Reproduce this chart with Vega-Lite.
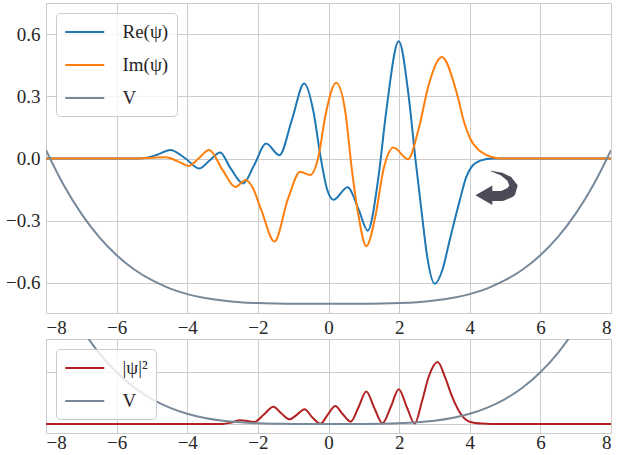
{
  "$schema": "https://vega.github.io/schema/vega-lite/v6.json",
  "background": "white",
  "padding": {"left": 5, "top": 2, "right": 5, "bottom": 0},
  "spacing": 0,
  "datasets": {
    "top": [
      {"s":"Re(ψ)","x":-8,"y":0},{"s":"Re(ψ)","x":-5.6,"y":0},{"s":"Re(ψ)","x":-5.2,"y":0.003},{"s":"Re(ψ)","x":-4.85,"y":0.018},{"s":"Re(ψ)","x":-4.48,"y":0.041},{"s":"Re(ψ)","x":-4.05,"y":0},{"s":"Re(ψ)","x":-3.66,"y":-0.048},{"s":"Re(ψ)","x":-3.36,"y":-0.008},{"s":"Re(ψ)","x":-3.07,"y":0.029},{"s":"Re(ψ)","x":-2.78,"y":-0.045},{"s":"Re(ψ)","x":-2.42,"y":-0.12},{"s":"Re(ψ)","x":-2.1,"y":-0.03},{"s":"Re(ψ)","x":-1.77,"y":0.072},{"s":"Re(ψ)","x":-1.39,"y":0.016},{"s":"Re(ψ)","x":-1.03,"y":0.19},{"s":"Re(ψ)","x":-0.69,"y":0.362},{"s":"Re(ψ)","x":-0.42,"y":0.221},{"s":"Re(ψ)","x":-0.23,"y":0.013},{"s":"Re(ψ)","x":-0.04,"y":-0.148},{"s":"Re(ψ)","x":0.14,"y":-0.199},{"s":"Re(ψ)","x":0.54,"y":-0.139},{"s":"Re(ψ)","x":0.85,"y":-0.244},{"s":"Re(ψ)","x":1.11,"y":-0.348},{"s":"Re(ψ)","x":1.42,"y":-0.083},{"s":"Re(ψ)","x":1.63,"y":0.221},{"s":"Re(ψ)","x":1.99,"y":0.565},{"s":"Re(ψ)","x":2.27,"y":0.301},{"s":"Re(ψ)","x":2.46,"y":0},{"s":"Re(ψ)","x":2.65,"y":-0.276},{"s":"Re(ψ)","x":2.79,"y":-0.468},{"s":"Re(ψ)","x":3.01,"y":-0.604},{"s":"Re(ψ)","x":3.22,"y":-0.54},{"s":"Re(ψ)","x":3.44,"y":-0.388},{"s":"Re(ψ)","x":3.72,"y":-0.2},{"s":"Re(ψ)","x":3.9,"y":-0.09},{"s":"Re(ψ)","x":4.05,"y":-0.04},{"s":"Re(ψ)","x":4.3,"y":-0.01},{"s":"Re(ψ)","x":4.65,"y":0},{"s":"Re(ψ)","x":8,"y":0},
      {"s":"Im(ψ)","x":-8,"y":0},{"s":"Im(ψ)","x":-5.4,"y":0},{"s":"Im(ψ)","x":-5.0,"y":0.004},{"s":"Im(ψ)","x":-4.6,"y":0.006},{"s":"Im(ψ)","x":-4.25,"y":-0.015},{"s":"Im(ψ)","x":-3.96,"y":-0.036},{"s":"Im(ψ)","x":-3.68,"y":0},{"s":"Im(ψ)","x":-3.38,"y":0.041},{"s":"Im(ψ)","x":-3.0,"y":-0.055},{"s":"Im(ψ)","x":-2.64,"y":-0.137},{"s":"Im(ψ)","x":-2.34,"y":-0.104},{"s":"Im(ψ)","x":-2.15,"y":-0.14},{"s":"Im(ψ)","x":-1.9,"y":-0.25},{"s":"Im(ψ)","x":-1.53,"y":-0.4},{"s":"Im(ψ)","x":-1.15,"y":-0.196},{"s":"Im(ψ)","x":-0.8,"y":-0.064},{"s":"Im(ψ)","x":-0.52,"y":-0.08},{"s":"Im(ψ)","x":-0.28,"y":0.013},{"s":"Im(ψ)","x":-0.09,"y":0.205},{"s":"Im(ψ)","x":0.22,"y":0.365},{"s":"Im(ψ)","x":0.48,"y":0.221},{"s":"Im(ψ)","x":0.66,"y":-0.051},{"s":"Im(ψ)","x":0.85,"y":-0.276},{"s":"Im(ψ)","x":1.07,"y":-0.423},{"s":"Im(ψ)","x":1.33,"y":-0.276},{"s":"Im(ψ)","x":1.56,"y":-0.051},{"s":"Im(ψ)","x":1.84,"y":0.053},{"s":"Im(ψ)","x":2.25,"y":-0.003},{"s":"Im(ψ)","x":2.55,"y":0.141},{"s":"Im(ψ)","x":2.84,"y":0.357},{"s":"Im(ψ)","x":3.21,"y":0.489},{"s":"Im(ψ)","x":3.63,"y":0.317},{"s":"Im(ψ)","x":3.85,"y":0.17},{"s":"Im(ψ)","x":4.02,"y":0.093},{"s":"Im(ψ)","x":4.28,"y":0.037},{"s":"Im(ψ)","x":4.57,"y":0.01},{"s":"Im(ψ)","x":4.9,"y":0},{"s":"Im(ψ)","x":8,"y":0},
      {"s":"V","x":-8,"y":0.04},{"s":"V","x":-7.5,"y":-0.128},{"s":"V","x":-7,"y":-0.266},{"s":"V","x":-6.5,"y":-0.378},{"s":"V","x":-6,"y":-0.466},{"s":"V","x":-5.5,"y":-0.535},{"s":"V","x":-5,"y":-0.587},{"s":"V","x":-4.5,"y":-0.626},{"s":"V","x":-4,"y":-0.654},{"s":"V","x":-3.5,"y":-0.673},{"s":"V","x":-3,"y":-0.685},{"s":"V","x":-2.5,"y":-0.693},{"s":"V","x":-2,"y":-0.697},{"s":"V","x":-1.5,"y":-0.699},{"s":"V","x":-1,"y":-0.7},{"s":"V","x":-0.5,"y":-0.7},{"s":"V","x":0,"y":-0.7},{"s":"V","x":0.5,"y":-0.7},{"s":"V","x":1,"y":-0.7},{"s":"V","x":1.5,"y":-0.699},{"s":"V","x":2,"y":-0.697},{"s":"V","x":2.5,"y":-0.693},{"s":"V","x":3,"y":-0.685},{"s":"V","x":3.5,"y":-0.673},{"s":"V","x":4,"y":-0.654},{"s":"V","x":4.5,"y":-0.626},{"s":"V","x":5,"y":-0.587},{"s":"V","x":5.5,"y":-0.535},{"s":"V","x":6,"y":-0.466},{"s":"V","x":6.5,"y":-0.378},{"s":"V","x":7,"y":-0.266},{"s":"V","x":7.5,"y":-0.128},{"s":"V","x":8,"y":0.04}
    ],
    "arrow": [
      {"i":0,"x":4.6,"y":-0.06},{"i":1,"x":4.9,"y":-0.075},{"i":2,"x":5.13,"y":-0.1},{"i":3,"x":5.24,"y":-0.133},{"i":4,"x":5.16,"y":-0.162},{"i":5,"x":4.92,"y":-0.181},{"i":6,"x":4.62,"y":-0.181}
    ],
    "arrowhead": [
      {"x":4.4,"y":-0.177}
    ],
    "bottom": [
      {"s":"|ψ|²","x":-8,"y":0},{"s":"|ψ|²","x":-3.0,"y":0},{"s":"|ψ|²","x":-2.75,"y":0.014},{"s":"|ψ|²","x":-2.5,"y":0.036},{"s":"|ψ|²","x":-2.1,"y":0.019},{"s":"|ψ|²","x":-1.83,"y":0.09},{"s":"|ψ|²","x":-1.56,"y":0.166},{"s":"|ψ|²","x":-1.33,"y":0.1},{"s":"|ψ|²","x":-1.1,"y":0.045},{"s":"|ψ|²","x":-0.89,"y":0.09},{"s":"|ψ|²","x":-0.68,"y":0.141},{"s":"|ψ|²","x":-0.45,"y":0.06},{"s":"|ψ|²","x":-0.23,"y":0.002},{"s":"|ψ|²","x":-0.02,"y":0.09},{"s":"|ψ|²","x":0.19,"y":0.173},{"s":"|ψ|²","x":0.41,"y":0.09},{"s":"|ψ|²","x":0.63,"y":0.022},{"s":"|ψ|²","x":0.85,"y":0.16},{"s":"|ψ|²","x":1.07,"y":0.311},{"s":"|ψ|²","x":1.3,"y":0.15},{"s":"|ψ|²","x":1.53,"y":0.007},{"s":"|ψ|²","x":1.76,"y":0.16},{"s":"|ψ|²","x":1.99,"y":0.334},{"s":"|ψ|²","x":2.22,"y":0.16},{"s":"|ψ|²","x":2.44,"y":0.003},{"s":"|ψ|²","x":2.65,"y":0.22},{"s":"|ψ|²","x":2.84,"y":0.455},{"s":"|ψ|²","x":3.09,"y":0.594},{"s":"|ψ|²","x":3.3,"y":0.45},{"s":"|ψ|²","x":3.5,"y":0.263},{"s":"|ψ|²","x":3.78,"y":0.08},{"s":"|ψ|²","x":4.02,"y":0.019},{"s":"|ψ|²","x":4.35,"y":0.003},{"s":"|ψ|²","x":4.6,"y":0},{"s":"|ψ|²","x":8,"y":0},
      {"s":"V","x":-8,"y":1.568},{"s":"V","x":-7.5,"y":1.211},{"s":"V","x":-7,"y":0.919},{"s":"V","x":-6.5,"y":0.683},{"s":"V","x":-6,"y":0.496},{"s":"V","x":-5.5,"y":0.35},{"s":"V","x":-5,"y":0.239},{"s":"V","x":-4.5,"y":0.157},{"s":"V","x":-4,"y":0.098},{"s":"V","x":-3.5,"y":0.057},{"s":"V","x":-3,"y":0.031},{"s":"V","x":-2.5,"y":0.015},{"s":"V","x":-2,"y":0.006},{"s":"V","x":-1.5,"y":0.002},{"s":"V","x":-1,"y":0.0004},{"s":"V","x":-0.5,"y":0},{"s":"V","x":0,"y":0},{"s":"V","x":0.5,"y":0},{"s":"V","x":1,"y":0.0004},{"s":"V","x":1.5,"y":0.002},{"s":"V","x":2,"y":0.006},{"s":"V","x":2.5,"y":0.015},{"s":"V","x":3,"y":0.031},{"s":"V","x":3.5,"y":0.057},{"s":"V","x":4,"y":0.098},{"s":"V","x":4.5,"y":0.157},{"s":"V","x":5,"y":0.239},{"s":"V","x":5.5,"y":0.35},{"s":"V","x":6,"y":0.496},{"s":"V","x":6.5,"y":0.683},{"s":"V","x":7,"y":0.919},{"s":"V","x":7.5,"y":1.211},{"s":"V","x":8,"y":1.568}
    ]
  },
  "vconcat": [
    {
      "width": 565,
      "height": 310,
      "encoding": {
        "x": {"field": "x", "type": "quantitative", "scale": {"domain": [-8, 8], "nice": false, "zero": false}, "axis": {"values": [-8, -6, -4, -2, 0, 2, 4, 6, 8], "format": "d", "labelPadding": 5}},
        "y": {"field": "y", "type": "quantitative", "scale": {"domain": [-0.745, 0.75], "nice": false, "zero": false}, "axis": {"values": [-0.6, -0.3, 0, 0.3, 0.6], "format": ".1f"}}
      },
      "layer": [
        {
          "data": {"name": "top"},
          "mark": {"type": "line", "interpolate": "monotone", "strokeWidth": 2, "clip": true},
          "encoding": {
            "color": {"field": "s", "type": "nominal", "title": null, "scale": {"domain": ["Re(ψ)", "Im(ψ)", "V"], "range": ["#1f77b4", "#ff7f0e", "#778899"]}, "legend": {"orient": "top-left"}}
          }
        },
        {
          "data": {"name": "arrow"},
          "mark": {"type": "trail", "color": "#4c4c58"},
          "encoding": {
            "order": {"field": "i", "type": "quantitative"},
            "size": {"field": "i", "type": "quantitative", "scale": {"domain": [0, 4], "range": [0.5, 10], "clamp": true}, "legend": null}
          }
        },
        {
          "data": {"name": "arrowhead"},
          "mark": {"type": "point", "shape": "triangle-left", "filled": true, "size": 380, "color": "#4c4c58", "opacity": 1},
          "encoding": {}
        }
      ]
    },
    {
      "width": 565,
      "height": 94,
      "data": {"name": "bottom"},
      "mark": {"type": "line", "interpolate": "monotone", "strokeWidth": 2, "clip": true},
      "encoding": {
        "x": {"field": "x", "type": "quantitative", "scale": {"domain": [-8, 8], "nice": false, "zero": false}, "axis": {"values": [-8, -6, -4, -2, 0, 2, 4, 6, 8], "format": "d", "labelPadding": 9, "labelBaseline": "middle"}},
        "y": {"field": "y", "type": "quantitative", "scale": {"domain": [-0.087, 0.815], "nice": false, "zero": false}, "axis": {"values": [0, 0.5], "labels": false}},
        "color": {"field": "s", "type": "nominal", "title": null, "scale": {"domain": ["|ψ|²", "V"], "range": ["#b22222", "#778899"]}, "legend": {"orient": "top-left"}}
      }
    }
  ],
  "resolve": {"scale": {"color": "independent", "x": "independent", "y": "independent", "size": "independent"}, "legend": {"color": "independent"}},
  "config": {
    "view": {"stroke": "#cccccc", "strokeWidth": 1},
    "axis": {"grid": true, "gridColor": "#cccccc", "gridWidth": 1, "domain": false, "ticks": false, "labelFont": "Liberation Serif", "labelFontSize": 19, "labelColor": "#262626", "labelPadding": 6, "title": null},
    "legend": {"offset": 10, "strokeColor": "#cccccc", "fillColor": "rgba(255,255,255,0.8)", "cornerRadius": 4, "padding": 8, "symbolType": "M-1,0H3", "symbolSize": 380, "symbolStrokeWidth": 2, "labelFont": "Liberation Serif", "labelFontSize": 19, "labelColor": "#262626", "labelOffset": 36.5, "rowPadding": 12, "labelLimit": 200}
  }
}
